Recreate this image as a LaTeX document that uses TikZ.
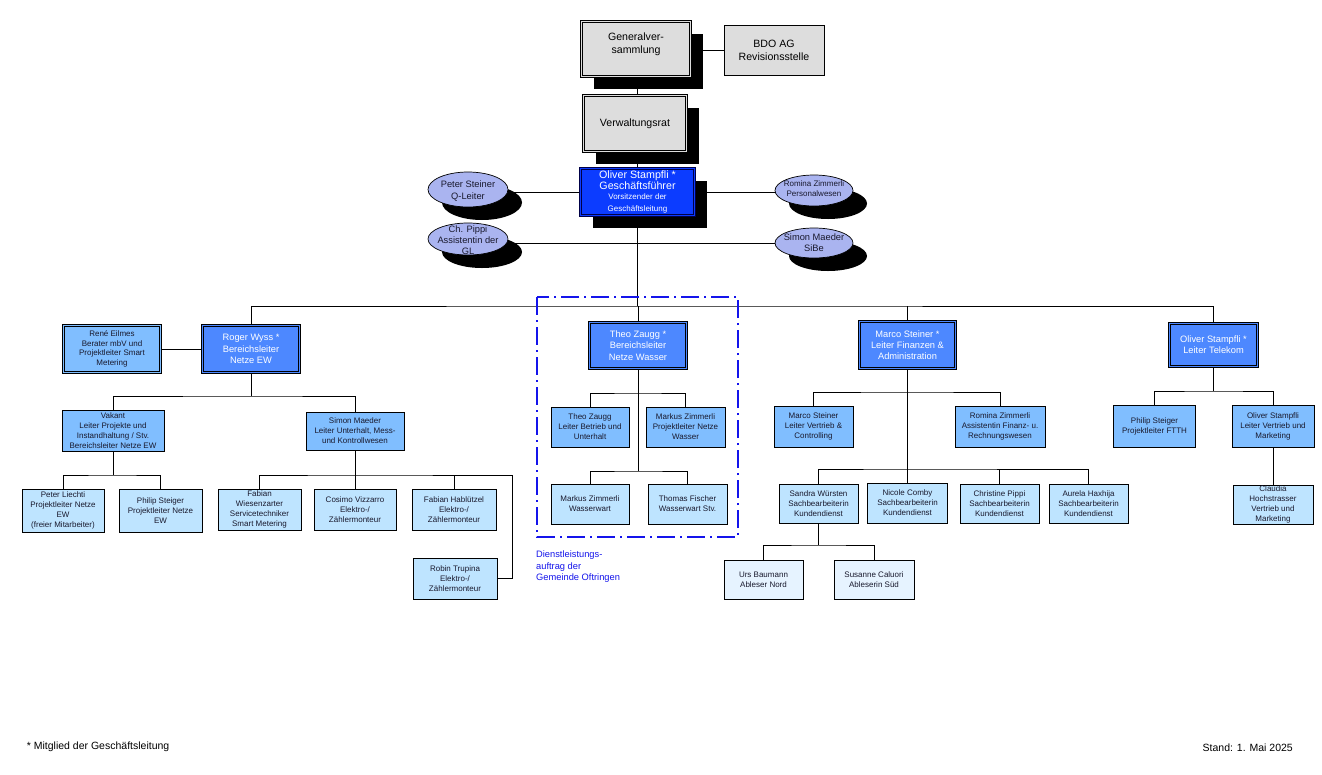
\documentclass[tikz,border=0pt]{standalone}
\usepackage{fontspec}
\setmainfont{Liberation Sans}
\usetikzlibrary{shapes.geometric,shadows,backgrounds}
\definecolor{greyf}{RGB}{221,221,221}
\definecolor{gfblue}{RGB}{12,60,255}
\definecolor{midblue}{RGB}{77,136,255}
\definecolor{lightb}{RGB}{128,190,255}
\definecolor{paleb}{RGB}{190,228,255}
\definecolor{palest}{RGB}{230,243,255}
\definecolor{ellc}{RGB}{170,180,240}
\definecolor{txt}{RGB}{25,25,45}
\definecolor{navy}{RGB}{0,0,70}
\definecolor{wblue}{RGB}{20,20,235}
\begin{document}
\begin{tikzpicture}[x=1pt,y=-1pt,
  base/.style={draw=black, line width=0.7pt, inner sep=0pt, align=center, text=txt},
  sz/.style 2 args={minimum width=#1, minimum height=#2},
  dbl/.style={base, fill=#1, double=#1, double distance=1.6pt},
  shad/.style={drop shadow={shadow xshift=12pt, shadow yshift=-12pt, fill=black, opacity=1}},
  ell/.style={ellipse, draw=black, line width=0.7pt, fill=ellc, inner sep=0pt,
     drop shadow={shadow xshift=14pt, shadow yshift=-13pt, fill=black, opacity=1}},
  fbig/.style={font=\fontsize{10.6}{13}\selectfont},
  fmid/.style={font=\fontsize{9.3}{11.3}\selectfont},
  fsm/.style={font=\fontsize{8}{10}\selectfont},
  lvtwo/.style={dbl=midblue, text=white, fmid},
  lvthree/.style={base, fill=lightb, fsm},
  lvfour/.style={base, fill=paleb, fsm},
  lvfive/.style={base, fill=palest, fsm},
  conn/.style={draw=black, line width=0.7pt},
]
\useasboundingbox (0,0) rectangle (1322,774);

% top
\node[dbl=greyf, shad, sz={109}{55}] (gv) at (636,49) {};
\node[fbig, align=center, inner sep=0pt, text=black] (gvt) at (636,44) {Generalver-\\sammlung};
\node[base, fill=greyf, sz={100}{50}, fbig, text=black] (bdo) at (774,50) {BDO AG\\Revisionsstelle};
\node[dbl=greyf, shad, sz={103}{56}, fbig, text=black] (vr) at (635,123.5) {Verwaltungsrat};
\node[base, draw=navy, fill=gfblue, double=gfblue, double distance=1.6pt, shad, sz={114}{47}, text=white, font=\fontsize{8}{12}\selectfont] (gf) at (637.5,192)
  {\fontsize{10.7}{13}\selectfont Oliver Stampfli *\\[-1.5pt]
   \fontsize{10.7}{13}\selectfont Geschäftsführer\\[-1.5pt]
   Vorsitzender der\\[-0.5pt] Geschäftsleitung};

% ellipses
\node[ell, minimum width=80, minimum height=35] (ps) at (468,189.5) {};
\node[fmid, align=center, text=txt, inner sep=0pt] (pst) at (468,191) {Peter Steiner\\Q-Leiter};
\node[ell, minimum width=80, minimum height=32] (cp) at (468,239) {};
\node[fmid, align=center, text=txt, inner sep=0pt] (cpt) at (468,240) {Ch. Pippi\\Assistentin der\\GL};
\node[ell, minimum width=78, minimum height=31] (rz) at (814,190.5) {};
\node[fsm, align=center, text=txt, inner sep=0pt] (rzt) at (814,188.5) {Romina Zimmerli\\Personalwesen};
\node[ell, minimum width=78, minimum height=30] (sm) at (814,243) {};
\node[fmid, align=center, text=txt, inner sep=0pt] (smt) at (814,242.5) {Simon Maeder\\SiBe};

% level 2
\node[dbl=lightb, sz={97}{47}, font=\fontsize{8}{9.7}\selectfont] (re) at (112,349) {René Eilmes\\Berater mbV und\\Projektleiter Smart\\Metering};
\node[lvtwo, sz={97}{47}] (rw) at (251,349) {Roger Wyss *\\Bereichsleiter\\Netze EW};
\node[lvtwo, sz={97}{46}] (tz) at (638,345.5) {Theo Zaugg *\\Bereichsleiter\\Netze Wasser};
\node[lvtwo, sz={96}{47}] (ms) at (907.5,345) {Marco Steiner *\\Leiter Finanzen \&\\Administration};
\node[lvtwo, sz={88}{43}] (ot) at (1213.5,345) {Oliver Stampfli *\\Leiter Telekom};

% level 3
\node[lvthree, sz={102}{41}] (vk) at (113,430.5) {Vakant\\Leiter Projekte und\\Instandhaltung / Stv.\\Bereichsleiter Netze EW};
\node[lvthree, sz={98}{38}] (sml) at (355,431) {Simon Maeder\\Leiter Unterhalt, Mess-\\und Kontrollwesen};
\node[lvthree, sz={78}{40}] (tzl) at (590,427) {Theo Zaugg\\Leiter Betrieb und\\Unterhalt};
\node[lvthree, sz={79}{40}] (mzp) at (685.5,427) {Markus Zimmerli\\Projektleiter Netze\\Wasser};
\node[lvthree, sz={79}{41}] (msv) at (813.5,426.5) {Marco Steiner\\Leiter Vertrieb \&\\Controlling};
\node[lvthree, sz={90}{41}] (rza) at (1000,426.5) {Romina Zimmerli\\Assistentin Finanz- u.\\Rechnungswesen};
\node[lvthree, sz={82}{42}] (psf) at (1154.5,426) {Philip Steiger\\Projektleiter FTTH};
\node[lvthree, sz={82}{42}] (osv) at (1273,426) {Oliver Stampfli\\Leiter Vertrieb und\\Marketing};

% level 4
\node[lvfour, sz={82}{43}] (pl) at (63,510.5) {Peter Liechti\\Projektleiter Netze\\EW\\(freier Mitarbeiter)};
\node[lvfour, sz={83}{43}] (pss) at (160.5,510.5) {Philip Steiger\\Projektleiter Netze\\EW};
\node[lvfour, sz={83}{41}] (fw) at (259.5,509.5) {Fabian\\Wiesenzarter\\Servicetechniker\\Smart Metering};
\node[lvfour, sz={82}{41}] (cv) at (355,509.5) {Cosimo Vizzarro\\Elektro-/\\Zählermonteur};
\node[lvfour, sz={84}{41}] (fh) at (454,509.5) {Fabian Hablützel\\Elektro-/\\Zählermonteur};
\node[lvfour, sz={84}{41}] (rt) at (455,578.5) {Robin Trupina\\Elektro-/\\Zählermonteur};
\node[lvfour, sz={78}{40}] (mzw) at (590,504) {Markus Zimmerli\\Wasserwart};
\node[lvfour, sz={79}{40}] (tf) at (687.5,504) {Thomas Fischer\\Wasserwart Stv.};
\node[lvfour, sz={79}{39}] (sw) at (818.5,503.5) {Sandra Würsten\\Sachbearbeiterin\\Kundendienst};
\node[lvfour, sz={80}{40}] (nc) at (907.5,503) {Nicole Comby\\Sachbearbeiterin\\Kundendienst};
\node[lvfour, sz={79}{39}] (chp) at (999.5,503.5) {Christine Pippi\\Sachbearbeiterin\\Kundendienst};
\node[lvfour, sz={79}{39}] (ah) at (1088.5,503.5) {Aurela Haxhija\\Sachbearbeiterin\\Kundendienst};
\node[lvfour, sz={80}{39}] (ch) at (1273,504.5) {Claudia\\Hochstrasser\\Vertrieb und\\Marketing};

% level 5
\node[lvfive, sz={79}{39}] (ub) at (763.5,579.5) {Urs Baumann\\Ableser Nord};
\node[lvfive, sz={80}{39}] (sc) at (874,579.5) {Susanne Caluori\\Ableserin Süd};

% bus points
\coordinate (b0) at (637.5,306);
\coordinate (b1) at (251,396);
\coordinate (b2) at (113,475);
\coordinate (b3) at (355,475);
\coordinate (rc1) at (512,475);
\coordinate (rc2) at (512,578.5);
\coordinate (t1) at (638,393);
\coordinate (t2) at (638,471);
\coordinate (m1) at (907.5,392);
\coordinate (m2) at (907.5,469);
\coordinate (s1) at (818.5,545);
\coordinate (o1) at (1213.5,391);

\begin{scope}[on background layer]
\fill[white] (0,0) rectangle (1322,774);
\draw[conn] (bdo.west) -- (bdo.west -| gv.east);
\draw[conn] (gf.north |- gv.south) -- (gf.north |- vr.north);
\draw[conn] (gf.north |- vr.south) -- (gf.north);
\draw[conn] (gf.west) -- (gf.west -| ps.east);
\draw[conn] (gf.east) -- (gf.east -| rz.west);
\draw[conn] (sm.west) -- (sm.west -| cp.east);
\draw[conn] (gf.south) -- (b0);
\draw[conn] (rw.north) |- (b0) -| (ot.north);
\draw[conn] (tz.north) -- (tz.north |- b0);
\draw[conn] (ms.north) -- (ms.north |- b0);
\draw[conn] (re.east) -- (rw.west);
% Netze EW
\draw[conn] (rw.south) -- (b1);
\draw[conn] (vk.north) |- (b1) -| (sml.north);
\draw[conn] (vk.south) -- (b2);
\draw[conn] (pl.north) |- (b2) -| (pss.north);
\draw[conn] (sml.south) -- (cv.north);
\draw[conn] (fw.north) |- (b3) -- (rc1) -- (rc2) -- (rt.east);
\draw[conn] (fh.north) -- (fh.north |- b3);
% Wasser
\draw[conn] (tz.south) -- (t2);
\draw[conn] (tzl.north) |- (t1) -| (mzp.north);
\draw[conn] (mzw.north) |- (t2) -| (tf.north);
% Finanzen
\draw[conn] (ms.south) -- (nc.north);
\draw[conn] (msv.north) |- (m1) -| (rza.north);
\draw[conn] (sw.north) |- (m2) -| (ah.north);
\draw[conn] (chp.north) -- (chp.north |- m2);
\draw[conn] (sw.south) -- (s1);
\draw[conn] (ub.north) |- (s1) -| (sc.north);
% Telekom
\draw[conn] (ot.south) -- (o1);
\draw[conn] (psf.north) |- (o1) -| (osv.north);
\draw[conn] (osv.south) -- (ch.north);
\end{scope}

% service area
\draw[wblue, line width=1.3pt, dash pattern=on 18pt off 5pt on 2pt off 5pt] (537,297) rectangle (738,537);
\node[fmid, text=wblue, align=left, anchor=north west, inner sep=0pt] (dl) at (536,551) {Dienstleistungs-\\auftrag der\\Gemeinde Oftringen};

% footer
\node[font=\fontsize{10.5}{12}\selectfont, anchor=west, inner sep=0pt, text=black] (foot1) at (26.7,747) {* Mitglied der Geschäftsleitung};
\node[font=\fontsize{10.5}{12}\selectfont, anchor=west, inner sep=0pt, text=black] (foot2) at (1202.5,748) {Stand: 1. Mai 2025};
\end{tikzpicture}
\end{document}
